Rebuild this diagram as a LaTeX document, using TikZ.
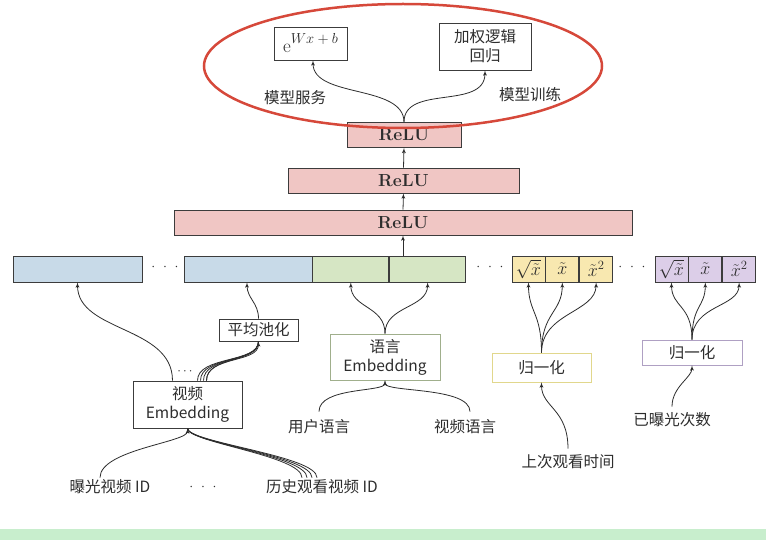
\RequirePackage{fix-cm}
\documentclass[tikz,border=0pt]{standalone}
\usepackage{fontspec}
\newfontfamily\cjk{Noto Sans CJK SC}
\usepackage{tikz}
\usetikzlibrary{arrows,positioning,shapes}

\definecolor{reluPink}{RGB}{240,198,196}
\definecolor{vidBlue}{RGB}{200,218,232}
\definecolor{langGreen}{RGB}{214,230,196}
\definecolor{timeYellow}{RGB}{248,232,176}
\definecolor{countPurple}{RGB}{220,206,232}
\definecolor{boxLine}{RGB}{60,60,60}
\definecolor{langLine}{RGB}{160,175,140}
\definecolor{timeLine}{RGB}{225,215,140}
\definecolor{countLine}{RGB}{175,160,195}
\definecolor{ringRed}{RGB}{214,72,58}
\definecolor{textGray}{RGB}{45,45,45}
\definecolor{bandGreen}{RGB}{200,238,205}

\begin{document}
\begin{tikzpicture}[x=1pt,y=-1pt]
			\tikzstyle{block} = [rectangle, draw=boxLine, line width=0.8pt, inner sep=0pt, text=textGray, font=\cjk\fontsize{15.5}{19}\selectfont, align=center]
			\tikzstyle{relu} = [block, fill=reluPink, minimum height=25pt, font=\bfseries\fontsize{17.5}{20}\selectfont]
			\tikzstyle{cell} = [block, minimum height=26pt, font=\fontsize{18}{20}\selectfont]
			\tikzstyle{entry} = [draw=none, inner sep=2pt, text=textGray, font=\cjk\fontsize{15.5}{19}\selectfont]
			\tikzstyle{arrow} = [draw=textGray, line width=0.8pt, -latex']
			\tikzstyle{wire} = [draw=textGray, line width=0.8pt]

			\fill[white] (0,0) rectangle (766,540);
			\fill[bandGreen] (0,529) rectangle (766,540);
			\useasboundingbox (0,0) rectangle (766,540);

			% serving / training
			\node [block, minimum width=73pt, minimum height=33pt, font=\fontsize{19}{20}\selectfont] (expo) at (310.5,43.5) {e\raisebox{9pt}{\fontsize{14.5}{16}\selectfont$Wx+b$}};
			\node [block, minimum width=92pt, minimum height=47pt] (wlr) at (485,46.5) {加权逻辑\\回归};
			\node [entry] (serve) at (295,98) {模型服务};
			\node [entry] (train) at (530,95) {模型训练};

			% hidden layers
			\node [relu, minimum width=114pt] (relu1) at (404,135) {ReLU};
			\node [relu, minimum width=231pt] (relu2) at (403.5,180.5) {ReLU};
			\node [relu, minimum width=458pt] (relu3) at (403,222.5) {ReLU};

			% input row
			\node [cell, fill=vidBlue, minimum width=129pt] (watch) at (77.5,269) {};
			\node [entry, font=\fontsize{14}{16}\selectfont] (dotsa) at (165,267) {$\cdot\ \cdot\ \cdot$};
			\node [cell, fill=vidBlue, minimum width=128pt] (pooled) at (248,269) {};
			\node [cell, fill=langGreen, minimum width=76pt, right=0pt of pooled] (ulangv) {};
			\node [cell, fill=langGreen, minimum width=76pt, right=0pt of ulangv] (vlangv) {};
			\node [entry, font=\fontsize{14}{16}\selectfont] (dotsb) at (490,267) {$\cdot\ \cdot\ \cdot$};
			\node [cell, fill=timeYellow, minimum width=33pt] (tsqrt) at (528.5,269) {$\sqrt{\tilde{x}}$};
			\node [cell, fill=timeYellow, minimum width=33pt, right=0pt of tsqrt] (tlin) {$\tilde{x}$};
			\node [cell, fill=timeYellow, minimum width=33pt, right=0pt of tlin] (tsq) {$\tilde{x}^2$};
			\node [entry, font=\fontsize{14}{16}\selectfont] (dotsc) at (632,267) {$\cdot\ \cdot\ \cdot$};
			\node [cell, fill=countPurple, minimum width=33pt] (csqrt) at (671.5,269) {$\sqrt{\tilde{x}}$};
			\node [cell, fill=countPurple, minimum width=33pt, right=0pt of csqrt] (clin) {$\tilde{x}$};
			\node [cell, fill=countPurple, minimum width=33pt, right=0pt of clin] (csq) {$\tilde{x}^2$};

			% embeddings and inputs
			\node [block, minimum width=79pt, minimum height=22pt] (pool) at (258.5,330) {平均池化};
			\node [block, minimum width=109pt, minimum height=47pt] (videmb) at (187.5,404.5) {视频\\Embedding};
			\node [entry, font=\fontsize{13}{15}\selectfont] (dotsd) at (185,372) {$\cdots$};
			\node [block, draw=langLine, minimum width=110pt, minimum height=46pt] (langemb) at (385,357) {语言\\Embedding};
			\node [block, draw=timeLine, minimum width=99pt, minimum height=29pt] (norm1) at (541.5,367.5) {归一化};
			\node [block, draw=countLine, minimum width=100pt, minimum height=25pt] (norm2) at (692,352.5) {归一化};
			\node [entry] (ulang) at (319,427) {用户语言};
			\node [entry] (vlang) at (465,427) {视频语言};
			\node [entry] (expid) at (110,487) {曝光视频 ID};
			\node [entry, font=\fontsize{14}{16}\selectfont] (dotse) at (203,487) {$\cdot\ \cdot\ \cdot$};
			\node [entry] (histid) at (322,487) {历史观看视频 ID};
			\node [entry] (lasttime) at (568,462) {上次观看时间};
			\node [entry] (expcount) at (672,420) {已曝光次数};

			\draw[ringRed, line width=2.5pt] (403,66) ellipse (199pt and 62pt);

			\path[arrow] (vlangv.north -| relu3.south) -- (relu3.north |- relu3.south);
			\path[arrow] (relu3.north) -- (relu2.south);
			\path[arrow] (relu2.north) -- (relu1.south);
			\path[arrow] (relu1.north) .. controls +(0,-38) and +(0,38) .. ([xshift=2.5pt]expo.south);
			\path[arrow] (relu1.north) .. controls +(0,-38) and +(0,40) .. (wlr.south);

			\path[arrow] ([xshift=-15pt]videmb.north) .. controls +(0,-55) and +(0,50) .. (watch.south);
			\foreach \s in {10,13,16,19}
				\path[wire] ([xshift=\s pt]videmb.north) .. controls +(0,-25) and +(0,22) .. (pool.south);
			\path[arrow] ([xshift=19pt]videmb.north) .. controls +(0,-25) and +(0,22) .. (pool.south);
			\path[arrow] (pool.north) .. controls +(0,-16) and +(0,16) .. ([xshift=-1pt]pooled.south);

			\path[arrow] (langemb.north) .. controls +(0,-28) and +(0,26) .. (ulangv.south);
			\path[arrow] (langemb.north) .. controls +(0,-28) and +(0,26) .. (vlangv.south);
			\path[arrow] ([yshift=6pt]ulang.north) .. controls +(0,-25) and +(0,12) .. (langemb.south);
			\path[arrow] ([xshift=5pt,yshift=6pt]vlang.north) .. controls +(0,-25) and +(0,12) .. (langemb.south);

			\path[arrow] ([xshift=-10pt]expid.north) .. controls +(0,-28) and +(0,14) .. (videmb.south);
			\foreach \s in {-20,-15,-10,-5}
				\path[wire] ([xshift=\s pt]histid.north) .. controls +(0,-22) and +(0,14) .. (videmb.south);

			\path[arrow] (norm1.north) .. controls +(0,-40) and +(0,30) .. (tsqrt.south);
			\path[arrow] (norm1.north) .. controls +(0,-40) and +(0,30) .. (tlin.south);
			\path[arrow] (norm1.north) .. controls +(0,-40) and +(0,30) .. (tsq.south);
			\path[arrow] ([yshift=4pt]lasttime.north) .. controls +(0,-40) and +(0,25) .. (norm1.south);

			\path[arrow] (norm2.north) .. controls +(0,-35) and +(0,25) .. (csqrt.south);
			\path[arrow] (norm2.north) .. controls +(0,-35) and +(0,25) .. (clin.south);
			\path[arrow] (norm2.north) .. controls +(0,-35) and +(0,25) .. (csq.south);
			\path[arrow] ([yshift=4pt]expcount.north) .. controls +(0,-20) and +(0,12) .. (norm2.south);
		\end{tikzpicture}
\end{document}
